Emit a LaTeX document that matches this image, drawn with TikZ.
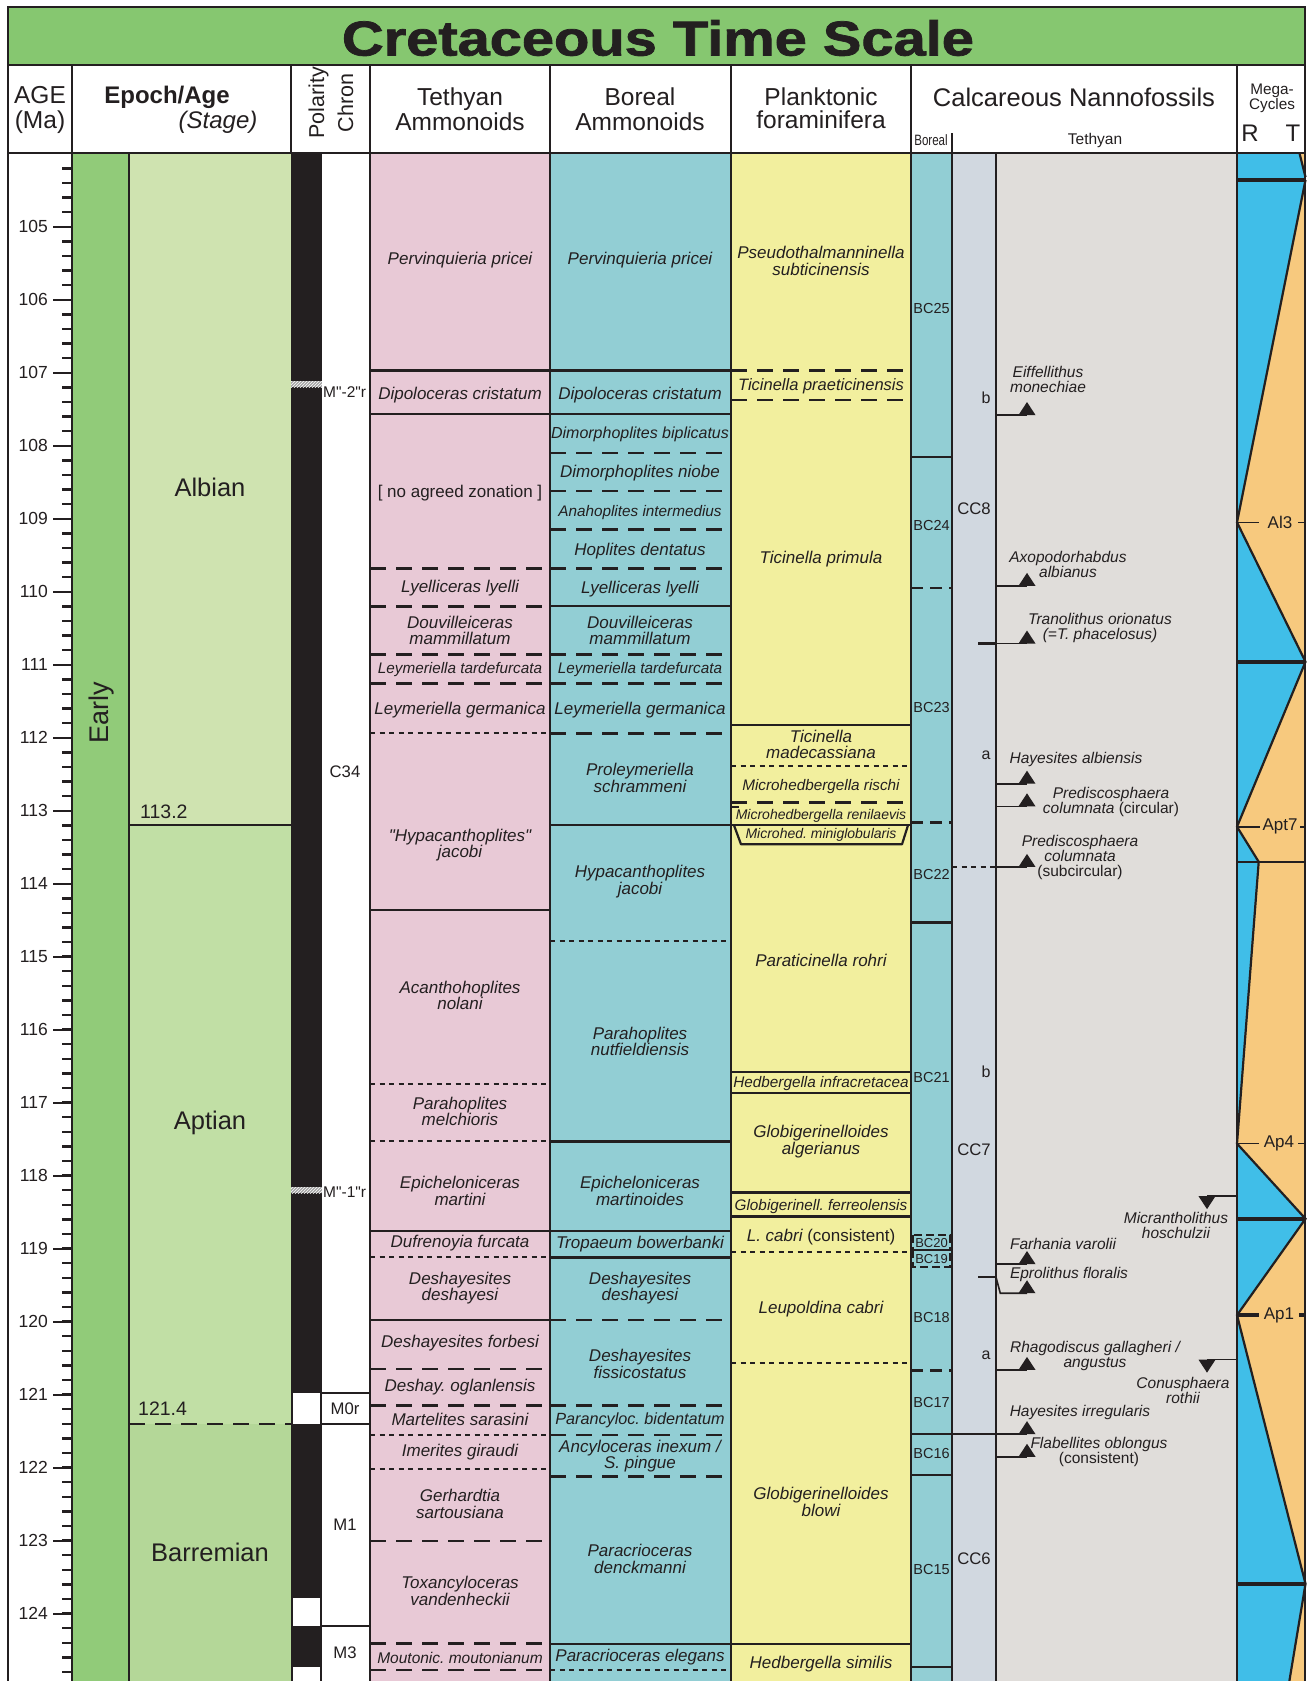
\documentclass[tikz,border=0pt]{standalone}
\usepackage{fontspec}
\setmainfont[Ligatures=TeXOff]{Liberation Sans}
\newfontfamily\titlefont[FakeBold=1.5]{Liberation Sans Bold}
\usetikzlibrary{patterns}

\definecolor{ink}{RGB}{35,31,32}
\definecolor{titlegreen}{RGB}{134,199,112}
\definecolor{epochgreen}{RGB}{145,203,121}
\definecolor{albiancol}{RGB}{207,227,176}
\definecolor{aptiancol}{RGB}{193,223,165}
\definecolor{barremcol}{RGB}{180,215,152}
\definecolor{tethpink}{RGB}{232,201,214}
\definecolor{borealteal}{RGB}{146,206,212}
\definecolor{foramyellow}{RGB}{242,239,158}
\definecolor{ccgray}{RGB}{209,216,224}
\definecolor{nannogray}{RGB}{224,221,218}
\definecolor{seablue}{RGB}{64,190,232}
\definecolor{seaorange}{RGB}{247,201,126}
\definecolor{hatchgray}{RGB}{165,165,165}

\newcommand{\fsz}[2]{\fontsize{#1}{#2}\selectfont}
% first / last occurrence datum triangles (x in px, y in Ma)
\newcommand{\upmark}[2]{\fill[ink] (#1,#2) ++(-8.5pt,0pt) -- ++(17pt,0pt) -- ++(-8.5pt,13pt) -- cycle;}
\newcommand{\downmark}[2]{\fill[ink] (#1,#2) ++(-8.5pt,0pt) -- ++(17pt,0pt) -- ++(-8.5pt,-13pt) -- cycle;}

\tikzset{
  frameline/.style={draw=ink, line width=2.6pt},
  colline/.style={draw=ink, line width=2.2pt},
  thincol/.style={draw=ink, line width=1.3pt},
  solidb/.style={draw=ink, line width=2.2pt},
  dashb/.style={draw=ink, line width=2.4pt, dash pattern=on 16pt off 10pt},
  dotb/.style={draw=ink, line width=2pt, dash pattern=on 5pt off 4.5pt},
  seqb/.style={draw=ink, line width=4.2pt},
  mk/.style={draw=ink, line width=1.6pt},
  tickl/.style={draw=ink, line width=2.4pt},
  hdr/.style={font=\fsz{24.5}{25}, align=center, inner sep=0pt, text=ink},
  zone/.style={font=\fsz{17}{16.7}\itshape, align=center, inner sep=0pt, text=ink},
  nanno/.style={font=\fsz{15.5}{15}\itshape, align=center, inner sep=0pt, text=ink},
  bcl/.style={font=\fsz{14.5}{15}, inner sep=0pt, text=ink},
  ccl/.style={font=\fsz{16.7}{17}, inner sep=0pt, text=ink},
  subz/.style={font=\fsz{16}{17}, inner sep=0pt, text=ink},
  stagel/.style={font=\fsz{25.5}{26}, inner sep=0pt, text=ink},
  agel/.style={font=\fsz{17.5}{18}, inner sep=0pt, text=ink, anchor=east},
  chronl/.style={font=\fsz{16.7}{17}, inner sep=0pt, text=ink},
  cyclel/.style={font=\fsz{17}{17}, inner sep=0pt, text=ink},
}

\begin{document}
\frenchspacing
\begin{tikzpicture}[x=1pt,y=-1pt]
\useasboundingbox (0,0) rectangle (1308,1681);
\clip (0,0) rectangle (1308,1681);
\fill[white] (0,0) rectangle (1308,1681);

% ---------------- body: x in px, y in Ma ----------------
\begin{scope}[yshift=7438.3pt, y=-73pt]
  % column fills
  \fill[epochgreen] (72,103.95) rectangle (129,125.2);
  \fill[albiancol]  (129,103.95) rectangle (291,113.2);
  \fill[aptiancol]  (129,113.2) rectangle (291,121.4);
  \fill[barremcol]  (129,121.4) rectangle (291,125.2);
  \fill[ink] (291,103.95) rectangle (322,125.2);
  \fill[white] (293,120.98) rectangle (320,121.40);
  \fill[white] (293,123.79) rectangle (320,124.17);
  \fill[white] (293,124.73) rectangle (320,125.2);
  \fill[hatchgray] (291,107.12) rectangle (322,107.20);
  \fill[pattern=north east lines, pattern color=white] (291,107.12) rectangle (322,107.20);
  \fill[hatchgray] (291,118.16) rectangle (322,118.24);
  \fill[pattern=north east lines, pattern color=white] (291,118.16) rectangle (322,118.24);
  \fill[tethpink]    (370,103.95) rectangle (550,125.2);
  \fill[borealteal]  (550,103.95) rectangle (731,125.2);
  \fill[foramyellow] (731,103.95) rectangle (911,125.2);
  \fill[borealteal]  (911,103.95) rectangle (952,125.2);
  \fill[ccgray]      (952,103.95) rectangle (996,125.2);
  \fill[nannogray]   (996,103.95) rectangle (1237,125.2);
  \fill[seablue]     (1237,103.95) rectangle (1305,125.2);

  % sea-level mega-cycles
  \fill[seaorange] (1298.7,103.95) -- (1305.5,104.32) -- (1305.5,103.95) -- cycle;
  \fill[seaorange] (1305.5,104.36) -- (1237,109.05) -- (1305.5,110.96) -- (1237,113.22)
     -- (1258.7,113.70) -- (1237,117.56) -- (1305.5,118.59) -- (1237,119.91)
     -- (1305.5,123.59) -- (1286,125.2) -- (1305.5,125.2) -- cycle;
  \draw[ink, line width=2.2pt] (1298.7,103.95) -- (1305.5,104.32);
  \draw[ink, line width=2.2pt, line join=miter] (1305.5,104.36) -- (1237,109.05) -- (1305.5,110.96) -- (1237,113.22)
     -- (1258.7,113.70) -- (1237,117.56) -- (1305.5,118.59) -- (1237,119.91)
     -- (1305.5,123.59) -- (1286,125.2);
  \foreach \a in {104.36,110.96,118.59,123.59}{\draw[seqb] (1237,\a) -- (1305,\a);}
  \draw[solidb] (1237,113.70) -- (1305,113.70);
  \draw[mk] (1237,109.05) -- (1259,109.05) (1298,109.05) -- (1305,109.05);
  \node[cyclel] (al3) at (1280,109.05) {Al3};
  \draw[mk] (1237,113.22) -- (1260,113.22) (1300,113.22) -- (1305,113.22);
  \node[cyclel] (apt7) at (1280,113.22) {Apt7};
  \draw[mk] (1237,117.56) -- (1259,117.56) (1298,117.56) -- (1305,117.56);
  \node[cyclel] (ap4) at (1279,117.56) {Ap4};
  \draw[seqb] (1237,119.91) -- (1259,119.91) (1299,119.91) -- (1305,119.91);
  \node[cyclel] (ap1) at (1279,119.91) {Ap1};

  % age scale
  \foreach \k in {1,...,104}{\draw[tickl] (62,{104+0.2*\k}) -- (72,{104+0.2*\k});}
  \foreach \a in {105,...,124}{
    \draw[tickl] (53,\a) -- (72,\a);
    \node[agel] (age\a) at (48,\a) {\a};
  }

  % stage boundaries
  \draw[ink, line width=1.8pt] (129,113.2) -- (291,113.2);
  \draw[ink, line width=2.4pt, dash pattern=on 16pt off 10pt] (129,121.4) -- (291,121.4);
  \node[font=\fsz{19.5}{20}, anchor=base west, inner sep=0pt, text=ink] (bnd113) at (140,113.10) {113.2};
  \node[font=\fsz{19.5}{20}, anchor=base west, inner sep=0pt, text=ink] (bnd121) at (138,121.29) {121.4};
  \node[stagel] (albian) at (210,108.57) {Albian};
  \node[stagel] (aptian) at (210,117.27) {Aptian};
  \node[stagel] (barremian) at (210,123.16) {Barremian};
  \node[font=\fsz{27}{27}, inner sep=0pt, text=ink, rotate=90] (early) at (102,111.66) {Early};

  % chron column
  \draw[solidb] (322,120.98) -- (370,120.98) (322,121.40) -- (370,121.40) (322,124.17) -- (370,124.17);
  \node[chronl] (c34) at (345,112.46) {C34};
  \node[chronl] (m0r) at (345,121.19) {M0r};
  \node[chronl] (m1) at (345,122.78) {M1};
  \node[chronl] (m3) at (345,124.54) {M3};
  \node[font=\fsz{15.5}{16}, inner sep=0pt, anchor=west, text=ink] (m2r) at (323,107.27) {M"-2"r};
  \node[font=\fsz{15.5}{16}, inner sep=0pt, anchor=west, text=ink] (m1r) at (323,118.22) {M"-1"r};

  % Tethyan ammonoid zone boundaries
  \foreach \a in {106.97,107.57,114.36,118.76,119.98}{\draw[solidb] (370,\a) -- (550,\a);}
  \foreach \a in {109.68,110.20,110.86,111.26,120.65,121.15,123.00,124.41,124.77}{\draw[dashb] (370,\a) -- (550,\a);}
  \foreach \a in {111.94,116.74,117.53,119.11,121.55,122.02}{\draw[dotb] (370,\a) -- (550,\a);}

  % Boreal ammonoid zone boundaries
  \foreach \a in {106.97,107.57,110.20,113.20,117.53,118.76,119.12,124.41}{\draw[solidb] (550,\a) -- (731,\a);}
  \foreach \a in {108.10,108.62,109.15,109.68,110.86,111.26,111.94,119.98,121.15,121.55,122.12}{\draw[dashb] (550,\a) -- (731,\a);}
  \foreach \a in {114.79,124.77}{\draw[dotb] (550,\a) -- (731,\a);}

  % planktonic foraminifera zone boundaries
  \foreach \a in {106.97,107.37,112.89}{\draw[dashb] (731,\a) -- (911,\a);}
  \foreach \a in {111.83,113.20,118.23,118.56,124.41}{\draw[solidb] (731,\a) -- (911,\a);}
  \foreach \a in {112.39,119.05,120.56}{\draw[dotb] (731,\a) -- (911,\a);}
  \draw[solidb] (731,112.95) -- (739,112.95);
  \draw[solidb, line join=round] (734,113.20) -- (741,113.46) -- (902,113.46) -- (908,113.20);
  \draw[solidb] (731,116.58) -- (911,116.58) (731,116.87) -- (911,116.87);

  % Boreal nannofossil zone boundaries
  \foreach \a in {108.15,114.53,122.10,124.73}{\draw[solidb] (911,\a) -- (952,\a);}
  \draw[solidb] (911,121.54) -- (1027,121.54);
  \foreach \a in {109.95,113.16,120.67}{\draw[ink, line width=2.4pt, dash pattern=on 12pt off 7pt] (911,\a) -- (952,\a);}
  \draw[ink, line width=2pt, dash pattern=on 8pt off 4pt] (913,118.81) rectangle (950,119.02) (913,119.02) rectangle (950,119.25);

  % vertical column rules
  \draw[colline] (72,103.95) -- (72,125.2);
  \draw[thincol] (129,103.95) -- (129,125.2);
  \foreach \x in {370,550,731,911,952,996,1237}{\draw[colline] (\x,103.95) -- (\x,125.2);}

  % Tethyan ammonoid zones
  \node[zone] (t1) at (460,105.46) {Pervinquieria pricei};
  \node[zone] (t2) at (460,107.30) {Dipoloceras cristatum};
  \node[zone, font=\fsz{17}{16.7}\upshape] (t3) at (460,108.65) {[ no agreed zonation ]};
  \node[zone] (t4) at (460,109.95) {Lyelliceras lyelli};
  \node[zone] (t5) at (460,110.53) {Douvilleiceras\\mammillatum};
  \node[zone, font=\fsz{15.3}{16}\itshape] (t6) at (460,111.07) {Leymeriella tardefurcata};
  \node[zone] (t7) at (460,111.62) {Leymeriella germanica};
  \node[zone] (t8) at (460,113.47) {"Hypacanthoplites"\\jacobi};
  \node[zone] (t9) at (460,115.53) {Acanthohoplites\\nolani};
  \node[zone] (t10) at (460,117.12) {Parahoplites\\melchioris};
  \node[zone] (t11) at (460,118.21) {Epicheloniceras\\martini};
  \node[zone] (t12) at (460,118.92) {Dufrenoyia furcata};
  \node[zone] (t13) at (460,119.54) {Deshayesites\\deshayesi};
  \node[zone] (t14) at (460,120.29) {Deshayesites forbesi};
  \node[zone] (t15) at (460,120.89) {Deshay. oglanlensis};
  \node[zone] (t16) at (460,121.34) {Martelites sarasini};
  \node[zone] (t17) at (460,121.78) {Imerites giraudi};
  \node[zone] (t18) at (460,122.50) {Gerhardtia\\sartousiana};
  \node[zone] (t19) at (460,123.69) {Toxancyloceras\\vandenheckii};
  \node[zone, font=\fsz{15.5}{16}\itshape] (t20) at (460,124.60) {Moutonic. moutonianum};

  % Boreal ammonoid zones
  \node[zone] (b1) at (640,105.46) {Pervinquieria pricei};
  \node[zone] (b2) at (640,107.30) {Dipoloceras cristatum};
  \node[zone, font=\fsz{16}{16}\itshape] (b3) at (640,107.85) {Dimorphoplites biplicatus};
  \node[zone] (b4) at (640,108.38) {Dimorphoplites niobe};
  \node[zone, font=\fsz{15.3}{16}\itshape] (b5) at (640,108.91) {Anahoplites intermedius};
  \node[zone] (b6) at (640,109.44) {Hoplites dentatus};
  \node[zone] (b7) at (640,109.97) {Lyelliceras lyelli};
  \node[zone] (b8) at (640,110.53) {Douvilleiceras\\mammillatum};
  \node[zone, font=\fsz{15.3}{16}\itshape] (b9) at (640,111.07) {Leymeriella tardefurcata};
  \node[zone] (b10) at (640,111.62) {Leymeriella germanica};
  \node[zone] (b11) at (640,112.55) {Proleymeriella\\schrammeni};
  \node[zone] (b12) at (640,113.97) {Hypacanthoplites\\jacobi};
  \node[zone] (b13) at (640,116.16) {Parahoplites\\nutfieldiensis};
  \node[zone] (b14) at (640,118.21) {Epicheloniceras\\martinoides};
  \node[zone] (b15) at (640,118.94) {Tropaeum bowerbanki};
  \node[zone] (b16) at (640,119.54) {Deshayesites\\deshayesi};
  \node[zone] (b17) at (640,120.58) {Deshayesites\\fissicostatus};
  \node[zone, font=\fsz{16.2}{16}\itshape] (b18) at (640,121.35) {Parancyloc. bidentatum};
  \node[zone] (b19) at (640,121.84) {Ancyloceras inexum /\\S. pingue};
  \node[zone] (b20) at (640,123.25) {Paracrioceras\\denckmanni};
  \node[zone] (b21) at (640,124.59) {Paracrioceras elegans};

  % planktonic foraminifera zones
  \node[zone] (f1) at (821,105.47) {Pseudothalmanninella\\subticinensis};
  \node[zone, font=\fsz{16.5}{16}\itshape] (f2) at (821,107.19) {Ticinella praeticinensis};
  \node[zone] (f3) at (821,109.56) {Ticinella primula};
  \node[zone] (f4) at (821,112.09) {Ticinella\\madecassiana};
  \node[zone, font=\fsz{15.3}{16}\itshape] (f5) at (821,112.67) {Microhedbergella rischi};
  \node[zone, font=\fsz{14}{15}\itshape] (f6) at (821,113.07) {Microhedbergella renilaevis};
  \node[zone, font=\fsz{14}{15}\itshape] (f7) at (821,113.33) {Microhed. miniglobularis};
  \node[zone] (f8) at (821,115.05) {Paraticinella rohri};
  \node[zone, font=\fsz{15.3}{16}\itshape] (f9) at (821,116.74) {Hedbergella infracretacea};
  \node[zone] (f10) at (821,117.53) {Globigerinelloides\\algerianus};
  \node[zone, font=\fsz{15.3}{16}\itshape] (f11) at (821,118.42) {Globigerinell. ferreolensis};
  \node[zone] (f12) at (821,118.84) {L. cabri {\upshape(consistent)}};
  \node[zone] (f13) at (821,119.83) {Leupoldina cabri};
  \node[zone] (f14) at (821,122.47) {Globigerinelloides\\blowi};
  \node[zone] (f15) at (821,124.69) {Hedbergella similis};

  % Boreal nannofossil zones
  \node[bcl] (bc25) at (931.5,106.12) {BC25};
  \node[bcl] (bc24) at (931.5,109.09) {BC24};
  \node[bcl] (bc23) at (931.5,111.58) {BC23};
  \node[bcl] (bc22) at (931.5,113.87) {BC22};
  \node[bcl] (bc21) at (931.5,116.66) {BC21};
  \node[bcl, font=\fsz{13}{13}] (bc20) at (931.5,118.92) {BC20};
  \node[bcl, font=\fsz{13}{13}] (bc19) at (931.5,119.14) {BC19};
  \node[bcl] (bc18) at (931.5,119.94) {BC18};
  \node[bcl] (bc17) at (931.5,121.10) {BC17};
  \node[bcl] (bc16) at (931.5,121.80) {BC16};
  \node[bcl] (bc15) at (931.5,123.40) {BC15};

  % Tethyan nannofossil zones
  \node[ccl] (cc8) at (974,108.87) {CC8};
  \node[ccl] (cc7) at (974,117.64) {CC7};
  \node[ccl] (cc6) at (974,123.25) {CC6};
  \node[subz] (cc8b) at (986,107.35) {b};
  \node[subz] (cc8a) at (986,112.24) {a};
  \node[subz] (cc7b) at (986,116.57) {b};
  \node[subz] (cc7a) at (986,120.46) {a};

  % nannofossil datums
  \draw[mk] (996,107.58) -- (1027,107.58);   \upmark{1027}{107.58}
  \draw[mk] (996,109.92) -- (1027,109.92);   \upmark{1027}{109.92}
  \draw[ink, line width=2.6pt] (978,110.71) -- (996,110.71);
  \draw[mk] (996,110.71) -- (1027,110.71);   \upmark{1027}{110.71}
  \draw[mk] (996,112.63) -- (1027,112.63);   \upmark{1027}{112.63}
  \draw[mk] (996,112.94) -- (1027,112.94);   \upmark{1027}{112.94}
  \draw[dotb] (952,113.77) -- (996,113.77);
  \draw[mk] (996,113.77) -- (1027,113.77);   \upmark{1027}{113.77}
  \draw[mk] (1207,118.28) -- (1237,118.28);  \downmark{1207}{118.28}
  \draw[mk] (996,119.21) -- (1027,119.21);   \upmark{1027}{119.21}
  \draw[ink, line width=2.4pt] (978,119.39) -- (996,119.39);
  \draw[mk] (996,119.39) -- (1000.3,119.61) -- (1027,119.61); \upmark{1027}{119.61}
  \draw[mk] (996,120.66) -- (1027,120.66);   \upmark{1027}{120.66}
  \draw[mk] (1207,120.52) -- (1237,120.52);  \downmark{1207}{120.52}
  \upmark{1027}{121.54}
  \draw[mk] (996,121.85) -- (1027,121.85);   \upmark{1027}{121.85}

  \node[nanno] (n1) at (1048,107.09) {Eiffellithus\\monechiae};
  \node[nanno] (n2) at (1068,109.63) {Axopodorhabdus\\albianus};
  \node[nanno] (n3) at (1100,110.50) {Tranolithus orionatus\\(=T. phacelosus)};
  \node[nanno] (n4) at (1076,112.30) {Hayesites albiensis};
  \node[nanno] (n5) at (1111,112.88) {Prediscosphaera\\columnata {\upshape(circular)}};
  \node[nanno] (n6) at (1080,113.64) {Prediscosphaera\\columnata\\{\upshape(subcircular)}};
  \node[nanno] (n7) at (1176,118.68) {Micrantholithus\\hoschulzii};
  \node[nanno] (n8) at (1063,118.94) {Farhania varolii};
  \node[nanno] (n9) at (1069,119.35) {Eprolithus floralis};
  \node[nanno] (n10) at (1095,120.47) {Rhagodiscus gallagheri /\\angustus};
  \node[nanno] (n11) at (1183,120.94) {Conusphaera\\rothii};
  \node[nanno] (n12) at (1080,121.25) {Hayesites irregularis};
  \node[nanno] (n13) at (1099,121.79) {Flabellites oblongus\\{\upshape(consistent)}};
\end{scope}

% ---------------- title and header ----------------
\fill[titlegreen] (8,7) rectangle (1305,65);
\node[inner sep=0pt, text=ink] (title) at (658,38)
  {\fsz{49}{49}\titlefont\scalebox{1.18}[1]{Cretaceous Time Scale}};
\fill[white] (8,65) rectangle (1305,153);
\foreach \x in {72,291,370,550,731,911,1237}{\draw[colline] (\x,65) -- (\x,153);}
\draw[colline] (952,133) -- (952,153);

\node[hdr] (hage) at (40,109.5) {AGE\\(Ma)};
\node[hdr, font=\fsz{24}{25}\bfseries] (hepoch) at (167,97) {Epoch/Age};
\node[hdr, font=\fsz{24}{25}\itshape] (hstage) at (218,122) {(Stage)};
\node[hdr, font=\fsz{21.5}{29}, rotate=90] (hpol) at (331,103) {Polarity\\Chron};
\node[hdr] (htam) at (460,109.5) {Tethyan\\Ammonoids};
\node[hdr] (hbam) at (640,109.5) {Boreal\\Ammonoids};
\node[hdr, font=\fsz{24.5}{23}] (hforam) at (821,108) {Planktonic\\foraminifera};
\node[hdr, font=\fsz{25.5}{26}] (hnanno) at (1074,97) {Calcareous Nannofossils};
\node[hdr, font=\fsz{15}{15}] (hbor) at (931,140) {\scalebox{0.77}[1]{Boreal}};
\node[hdr, font=\fsz{15.5}{16}] (hteth) at (1095,140) {Tethyan};
\node[hdr, font=\fsz{15.3}{14}] (hmega) at (1272,98) {Mega-\\Cycles};
\node[hdr, font=\fsz{24}{24}] (hR) at (1250,133) {R};
\node[hdr, font=\fsz{24}{24}] (hT) at (1293,133) {T};

% outer frame
\draw[frameline] (8,65) -- (1305,65);
\draw[frameline] (8,153) -- (1305,153);
\draw[frameline] (8,1690) -- (8,7) -- (1305,7) -- (1305,1690);
\end{tikzpicture}
\end{document}
